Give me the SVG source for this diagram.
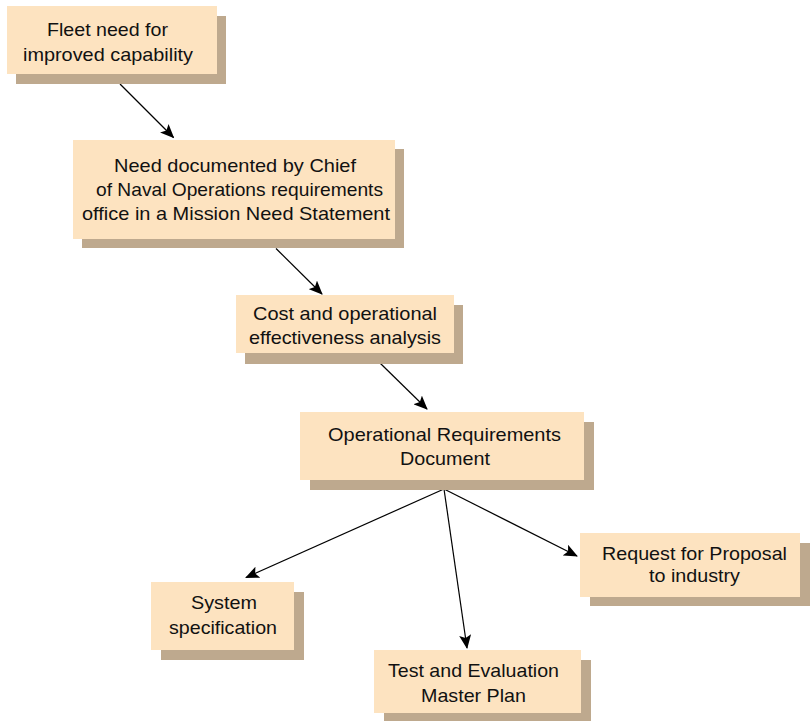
<svg xmlns="http://www.w3.org/2000/svg" width="810" height="721" viewBox="0 0 810 721">
  <style>
    .shadow { fill: #bea98e; }
    .card { fill: #fde3c0; }
    .label { font-family: "Liberation Sans", Arial, sans-serif; font-size: 18.5px; fill: #111; }
    .link { stroke: #000; stroke-width: 1.2; fill: none; marker-end: url(#arrow); }
  </style>
  <defs>
    <marker id="arrow" markerUnits="userSpaceOnUse" markerWidth="14" markerHeight="12" viewBox="0 0 14 12" refX="13" refY="6" orient="auto">
      <path d="M0,0 L14,6 L0,12 L3,6 z" fill="#000"/>
    </marker>
  </defs>
  <rect width="810" height="721" fill="#fff"/>

  <g id="connectors">
    <line class="link" x1="120" y1="84" x2="173.5" y2="137.5"/>
    <line class="link" x1="276" y1="248.5" x2="322" y2="294"/>
    <line class="link" x1="380.5" y1="363.5" x2="427" y2="409"/>
    <line class="link" x1="444" y1="489" x2="246" y2="577.5"/>
    <line class="link" x1="444" y1="489" x2="467" y2="648"/>
    <line class="link" x1="444" y1="489" x2="577" y2="556"/>
  </g>

  <g id="fleet-need">
    <rect class="shadow" x="16" y="16" width="210" height="68"/>
    <rect class="card" x="7" y="6" width="210" height="68"/>
    <text class="label" x="47" y="36" textLength="121" lengthAdjust="spacingAndGlyphs">Fleet need for</text>
    <text class="label" x="23" y="61" textLength="170" lengthAdjust="spacingAndGlyphs">improved capability</text>
  </g>

  <g id="mission-need">
    <rect class="shadow" x="82" y="149" width="322" height="99"/>
    <rect class="card" x="73" y="140" width="322" height="99"/>
    <text class="label" x="114" y="171.5" textLength="242" lengthAdjust="spacingAndGlyphs">Need documented by Chief</text>
    <text class="label" x="96" y="195.5" textLength="287" lengthAdjust="spacingAndGlyphs">of Naval Operations requirements</text>
    <text class="label" x="82" y="220" textLength="308" lengthAdjust="spacingAndGlyphs">office in a Mission Need Statement</text>
  </g>

  <g id="cost-analysis">
    <rect class="shadow" x="245" y="305" width="218" height="59"/>
    <rect class="card" x="236" y="295" width="218" height="58"/>
    <text class="label" x="253" y="320" textLength="184" lengthAdjust="spacingAndGlyphs">Cost and operational</text>
    <text class="label" x="249" y="343.5" textLength="192" lengthAdjust="spacingAndGlyphs">effectiveness analysis</text>
  </g>

  <g id="ord">
    <rect class="shadow" x="310" y="422" width="284" height="68"/>
    <rect class="card" x="300" y="412" width="284" height="68"/>
    <text class="label" x="328" y="440.5" textLength="233" lengthAdjust="spacingAndGlyphs">Operational Requirements</text>
    <text class="label" x="400" y="464.5" textLength="90" lengthAdjust="spacingAndGlyphs">Document</text>
  </g>

  <g id="system-spec">
    <rect class="shadow" x="161" y="592" width="143" height="68"/>
    <rect class="card" x="151" y="582" width="143" height="68"/>
    <text class="label" x="191" y="609" textLength="66" lengthAdjust="spacingAndGlyphs">System</text>
    <text class="label" x="169" y="634" textLength="108" lengthAdjust="spacingAndGlyphs">specification</text>
  </g>

  <g id="temp">
    <rect class="shadow" x="384" y="660" width="207" height="61"/>
    <rect class="card" x="374" y="650" width="207" height="63"/>
    <text class="label" x="388" y="676.5" textLength="171" lengthAdjust="spacingAndGlyphs">Test and Evaluation</text>
    <text class="label" x="421" y="701.5" textLength="105" lengthAdjust="spacingAndGlyphs">Master Plan</text>
  </g>

  <g id="rfp">
    <rect class="shadow" x="590" y="543" width="220" height="63"/>
    <rect class="card" x="580" y="533" width="220" height="64"/>
    <text class="label" x="602" y="559.5" textLength="185" lengthAdjust="spacingAndGlyphs">Request for Proposal</text>
    <text class="label" x="649" y="582" textLength="91" lengthAdjust="spacingAndGlyphs">to industry</text>
  </g>
</svg>
